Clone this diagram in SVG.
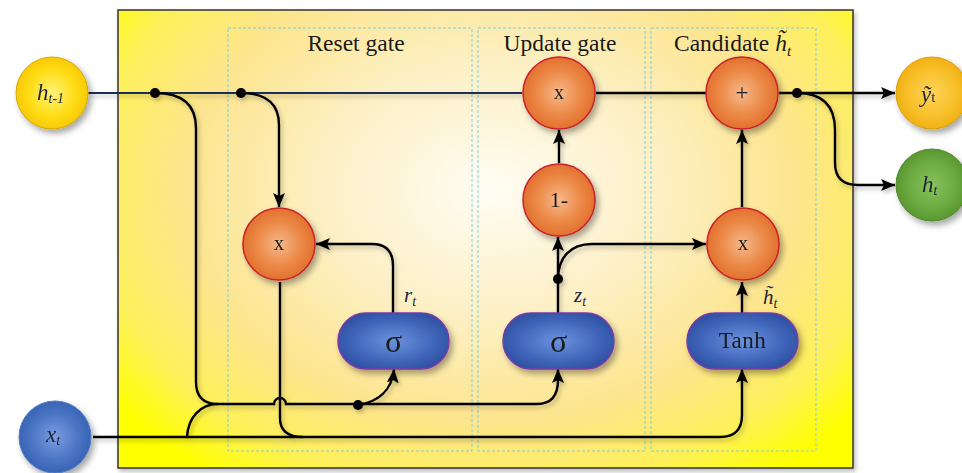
<svg xmlns="http://www.w3.org/2000/svg" width="962" height="473" viewBox="0 0 962 473">
<defs>
  <radialGradient id="bg" gradientUnits="userSpaceOnUse" cx="490" cy="190" r="470" gradientTransform="translate(490 190) scale(1 0.75) translate(-490 -190)">
    <stop offset="0" stop-color="#fffdf4"/>
    <stop offset="0.35" stop-color="#fdf0c6"/>
    <stop offset="0.65" stop-color="#fde58e"/>
    <stop offset="0.85" stop-color="#fef05a"/>
    <stop offset="1" stop-color="#ffff00"/>
  </radialGradient>
  <radialGradient id="gOrange" cx="0.5" cy="0.5" r="0.55">
    <stop offset="0" stop-color="#f7b88a"/>
    <stop offset="0.55" stop-color="#ec8a48"/>
    <stop offset="1" stop-color="#e06a28"/>
  </radialGradient>
  <radialGradient id="gBlue" cx="0.5" cy="0.5" r="0.6">
    <stop offset="0" stop-color="#6c92dc"/>
    <stop offset="0.6" stop-color="#4066bc"/>
    <stop offset="1" stop-color="#2c4c9c"/>
  </radialGradient>
  <radialGradient id="gYellow" cx="0.5" cy="0.5" r="0.55">
    <stop offset="0" stop-color="#fff27a"/>
    <stop offset="0.6" stop-color="#ffdc14"/>
    <stop offset="1" stop-color="#f4c400"/>
  </radialGradient>
  <radialGradient id="gAmber" cx="0.5" cy="0.5" r="0.55">
    <stop offset="0" stop-color="#fdd35a"/>
    <stop offset="0.6" stop-color="#f8c02a"/>
    <stop offset="1" stop-color="#eeac10"/>
  </radialGradient>
  <radialGradient id="gGreen" cx="0.5" cy="0.5" r="0.55">
    <stop offset="0" stop-color="#86c25c"/>
    <stop offset="0.6" stop-color="#6caa40"/>
    <stop offset="1" stop-color="#55912c"/>
  </radialGradient>
  <radialGradient id="gXt" cx="0.5" cy="0.5" r="0.55">
    <stop offset="0" stop-color="#7a9ee0"/>
    <stop offset="0.6" stop-color="#4a74c4"/>
    <stop offset="1" stop-color="#355fb0"/>
  </radialGradient>
  <filter id="sh" x="-30%" y="-30%" width="160%" height="160%">
    <feDropShadow dx="3" dy="4" stdDeviation="3" flood-color="#000" flood-opacity="0.35"/>
  </filter>
  <filter id="shl" x="-10%" y="-10%" width="120%" height="120%">
    <feDropShadow dx="2" dy="3" stdDeviation="2" flood-color="#000" flood-opacity="0.25"/>
  </filter>
  <marker id="arr" markerUnits="userSpaceOnUse" markerWidth="14" markerHeight="12" viewBox="0 0 14 12" refX="14" refY="6" orient="auto">
    <path d="M0,0 L14,6 L0,12 L3,6 Z" fill="#000"/>
  </marker>
  <style>
    .panel{fill:none;stroke:#7ccfe0;stroke-width:1;stroke-dasharray:3 2}
    .ttl{font-family:"Liberation Serif","Times New Roman",serif;font-size:23.5px;fill:#1a1a1a}
    .op{font-family:"Liberation Serif","Times New Roman",serif;fill:#1a1a1a;text-anchor:middle}
    .var{font-family:"Liberation Serif","Times New Roman",serif;font-style:italic;fill:#1f2438}
    .ln{fill:none;stroke:#000;stroke-width:2.4}
    .ln2{fill:none;stroke:#000;stroke-width:2.4;marker-end:url(#arr)}
    .orange{fill:url(#gOrange);stroke:#c8202a;stroke-width:1.5}
    .pill{fill:url(#gBlue);stroke:#7a3aa8;stroke-width:1.5}
  </style>
</defs>

<rect x="118" y="10" width="735" height="458" fill="url(#bg)" stroke="#333" stroke-width="1.5" filter="url(#shl)"/>

<g id="panels">
  <rect class="panel" x="228" y="28" width="244" height="423"/>
  <rect class="panel" x="478" y="28" width="167" height="423"/>
  <rect class="panel" x="651" y="28" width="165" height="423"/>
  <text class="ttl" x="356" y="51" text-anchor="middle">Reset gate</text>
  <text class="ttl" x="560" y="51" text-anchor="middle">Update gate</text>
  <text class="ttl" x="674" y="51">Candidate <tspan font-style="italic">h̃</tspan><tspan font-style="italic" font-size="15" dy="5">t</tspan></text>
</g>

<g id="connectors" filter="url(#shl)">
  <path d="M88,93 H522" fill="none" stroke="#1f2d58" stroke-width="2"/>
  <path class="ln" d="M596,93 H706"/>
  <path class="ln2" d="M779,93 H895"/>
  <path class="ln2" d="M797,93 Q835,93 835,130 V163 Q835,185 858,185 H895"/>
  <path class="ln" d="M155,93 Q196,93 196,128 V382 Q196,404 218,404 H274 A6,6 0 0 1 286,404 H537"/>
  <path class="ln2" d="M537,404 Q558,404 558,380 V369"/>
  <path class="ln2" d="M358,405 C376,402 392,392 394,369"/>
  <path class="ln2" d="M241,93 Q279,93 279,125 V207"/>
  <path class="ln" d="M93,437 H720"/>
  <path class="ln2" d="M720,437 Q742,437 742,415 V369"/>
  <path class="ln" d="M187,437 C188,418 200,404 218,404"/>
  <path class="ln" d="M280,282 V418 Q280,437 303,437"/>
  <path class="ln2" d="M393,313 V266 Q393,244 372,244 H316"/>
  <path class="ln2" d="M558,313 V237"/>
  <path class="ln2" d="M558,279 C558,258 570,244 592,244 H706"/>
  <path class="ln2" d="M559,163 V130"/>
  <path class="ln2" d="M742,313 V282"/>
  <path class="ln2" d="M742,207 V130"/>
  <circle cx="155" cy="93" r="5" fill="#000"/>
  <circle cx="241" cy="93" r="5" fill="#000"/>
  <circle cx="358" cy="405" r="5" fill="#000"/>
  <circle cx="558" cy="279" r="5" fill="#000"/>
  <circle cx="797" cy="93" r="5" fill="#000"/>
</g>

<g id="labels">
  <text class="var" x="404" y="302" font-size="21">r<tspan font-size="14" dy="4">t</tspan></text>
  <text class="var" x="574" y="302" font-size="21">z<tspan font-size="14" dy="4">t</tspan></text>
  <text class="var" x="763" y="304" font-size="21">h̃<tspan font-size="14" dy="4">t</tspan></text>
</g>

<g id="h_prev" filter="url(#sh)">
  <circle cx="52" cy="93" r="36" fill="url(#gYellow)" stroke="#d9a800" stroke-width="1"/>
  <text class="var" x="37" y="100" font-size="23">h<tspan font-size="14" dy="3">t-1</tspan></text>
</g>
<g id="x_t" filter="url(#sh)">
  <circle cx="55" cy="437" r="36" fill="url(#gXt)" stroke="#4a7cc8" stroke-width="1"/>
  <text class="var" x="46" y="442" font-size="23">x<tspan font-size="14" dy="3">t</tspan></text>
</g>
<g id="y_t" filter="url(#sh)">
  <circle cx="932" cy="93" r="36" fill="url(#gAmber)" stroke="#d9a000" stroke-width="1"/>
  <text class="var" x="921" y="102" font-size="23">ỹ<tspan font-style="normal" font-size="15">t</tspan></text>
</g>
<g id="h_t" filter="url(#sh)">
  <circle cx="932" cy="185" r="36" fill="url(#gGreen)" stroke="#4f8a2a" stroke-width="1"/>
  <text class="var" x="922" y="192" font-size="23">h<tspan font-size="14" dy="3">t</tspan></text>
</g>

<g id="update_mul" filter="url(#sh)">
  <circle class="orange" cx="559" cy="93" r="36"/>
  <text class="op" x="559" y="99" font-size="20">x</text>
</g>
<g id="add" filter="url(#sh)">
  <circle class="orange" cx="742" cy="93" r="36"/>
  <text class="op" x="742" y="100" font-size="23">+</text>
</g>
<g id="reset_mul" filter="url(#sh)">
  <circle class="orange" cx="279" cy="244" r="36"/>
  <text class="op" x="279" y="250" font-size="20">x</text>
</g>
<g id="one_minus" filter="url(#sh)">
  <circle class="orange" cx="559" cy="200" r="36"/>
  <text class="op" x="559" y="207" font-size="22">1-</text>
</g>
<g id="cand_mul" filter="url(#sh)">
  <circle class="orange" cx="743" cy="244" r="36"/>
  <text class="op" x="743" y="250" font-size="20">x</text>
</g>

<g id="reset_sigma" filter="url(#sh)">
  <rect class="pill" x="338" y="313" width="111" height="56" rx="28"/>
  <text class="op" x="393.5" y="352" font-size="32">σ</text>
</g>
<g id="update_sigma" filter="url(#sh)">
  <rect class="pill" x="503" y="313" width="111" height="56" rx="28"/>
  <text class="op" x="558.5" y="352" font-size="32">σ</text>
</g>
<g id="tanh" filter="url(#sh)">
  <rect class="pill" x="687" y="313" width="111" height="56" rx="28"/>
  <text class="op" x="742.5" y="348" font-size="23" letter-spacing="0.5">Tanh</text>
</g>
</svg>
